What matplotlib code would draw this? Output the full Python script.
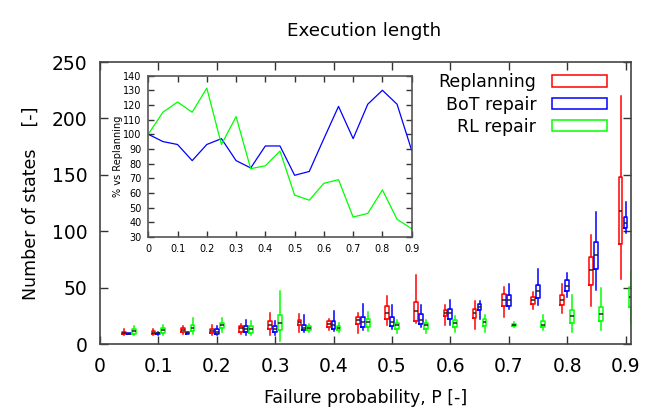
import matplotlib
matplotlib.use("Agg")
import matplotlib.pyplot as plt
from matplotlib.patches import Patch
import numpy as np

# ---------------- data ----------------
groups = [0.05, 0.10, 0.15, 0.20, 0.25, 0.30, 0.35, 0.40, 0.45,
          0.50, 0.55, 0.60, 0.65, 0.70, 0.75, 0.80, 0.85, 0.90]

series_names = ["Replanning", "BoT repair", "RL repair"]

# each row: (whisker low, q1, median, q3, whisker high)
replanning = [
    (8, 9, 10, 11, 13), (7.6, 8.7, 10, 11.4, 13.5), (9, 10.5, 12.6, 14.4, 15.8),
    (7.6, 10, 11.7, 13.5, 17.3), (9, 11, 14, 15.6, 17.6), (8.2, 12.9, 16.5, 20, 27.8),
    (11, 16.5, 19.1, 21.5, 26.2), (12.6, 15, 18, 20, 21.8), (10, 18, 20.9, 23.8, 27.4),
    (16.5, 22.4, 27.7, 33.4, 42.3), (18.5, 20.3, 29.2, 37.5, 61), (17.3, 24.5, 27.4, 29.8, 34.2),
    (13.5, 23.3, 27.4, 31.3, 37.8), (23.8, 33.6, 39.3, 44.7, 50.5), (30.7, 35.8, 38.7, 41.6, 46.1),
    (27.4, 34.2, 39.3, 43.8, 53.6), (33.4, 52.7, 65.4, 77.2, 96.5), (58, 88.3, 118.2, 148.4, 219.6),
]
bot_repair = [
    (8.5, 9, 9.3, 9.5, 10), (8, 8.7, 9.4, 10.2, 11), (8.5, 8.7, 9.6, 10.5, 11),
    (7.6, 9.3, 11.1, 12.9, 15.8), (8.4, 10.5, 13.5, 16.2, 20.9), (7.6, 10.5, 12.9, 15.8, 20),
    (10.5, 12, 14, 17.3, 25.4), (11.4, 12.9, 17, 20, 29.2), (12, 15, 19.4, 23.8, 35.8),
    (13.5, 15.8, 19.4, 23.8, 34.2), (15, 18, 21.5, 26.2, 35), (16.5, 22.4, 27.7, 31.3, 38.7),
    (22.4, 30.4, 32.7, 35.8, 37.8), (31.3, 33.6, 39.3, 43.8, 53.6), (34.9, 40.8, 47, 52.7, 66.9),
    (41.6, 46.7, 51.4, 56.5, 63), (47.6, 66.3, 78.7, 90.6, 117.3), (98, 102.5, 107.5, 112.8, 126.2),
]
rl_repair = [
    (8.2, 9, 11.4, 13.5, 15.8), (8.2, 10, 12.6, 14.4, 17.3), (8.5, 11.7, 14.4, 17, 22.7),
    (10.5, 14, 16.5, 18.5, 23), (7.6, 9.6, 12.9, 15.6, 20), (3, 12, 18.8, 26, 46.7),
    (10.5, 12.6, 14.4, 16.2, 18), (10.5, 12, 14.4, 16.2, 18.5), (11.4, 15, 19.1, 22.4, 28),
    (9.6, 13.5, 16.5, 18.8, 21.5), (9.6, 13.5, 16.5, 18.5, 21.5), (10.5, 15, 18.5, 20.9, 24.5),
    (11, 15.8, 19.1, 22.4, 26), (15, 15.8, 17, 18, 19.4), (12, 15, 17.3, 20, 25.4),
    (11, 18.5, 24.5, 29.8, 43.8), (12.6, 20.3, 26.9, 32.7, 50), (18, 32.7, 41.6, 50.5, 64.8),
]

xtick_values = [0, 0.1, 0.2, 0.3, 0.4, 0.5, 0.6, 0.7, 0.8, 0.9]
xtick_labels = ["0", "0.1", "0.2", "0.3", "0.4", "0.5", "0.6", "0.7", "0.8", "0.9"]
ytick_values = [0, 50, 100, 150, 200, 250]

# inset: % vs Replanning
inset_x = [0, 0.05, 0.1, 0.15, 0.2, 0.25, 0.3, 0.35, 0.4, 0.45,
           0.5, 0.55, 0.6, 0.65, 0.7, 0.75, 0.8, 0.85, 0.9]
inset_bot = [100, 95, 93, 82, 93, 97, 82, 77, 92, 92,
             72, 74.6, 97, 119, 97, 120.5, 130, 120.5, 89]
inset_rl = [100, 115, 122, 115, 131.5, 93, 112, 76.5, 78.5, 88.5,
            58.5, 55, 66.5, 69, 43.5, 46, 62, 42, 35.5]
inset_yticks = [30, 40, 50, 60, 70, 80, 90, 100, 110, 120, 130, 140]

# ---------------- style ----------------
colors = ["#ff0000", "#0000ff", "#00ff00"]
offsets = [-0.0085, 0.0, 0.0085]
box_width = 0.0065

plt.rcParams['font.family'] = ['DejaVu Sans']

fig = plt.figure(figsize=(6.64, 4.15), dpi=100)
ax = fig.add_axes([0.1506, 0.171, 0.7994, 0.6795])

for data, col, off in zip([replanning, bot_repair, rl_repair], colors, offsets):
    stats = [dict(whislo=w0, q1=q1, med=m, q3=q3, whishi=w1, fliers=[])
             for (w0, q1, m, q3, w1) in data]
    ax.bxp(stats, positions=[g + off for g in groups], widths=box_width,
           showcaps=False, showfliers=False, manage_ticks=False,
           boxprops=dict(color=col, linewidth=1.1),
           whiskerprops=dict(color=col, linewidth=1.1),
           medianprops=dict(color="#222222", linewidth=1.1))

ax.set_xlim(0, 0.909)
ax.set_ylim(0, 250)
ax.set_xticks(xtick_values)
ax.set_xticklabels(xtick_labels)
ax.set_yticks(ytick_values)
ax.tick_params(direction="in", top=True, right=True, length=6, width=1,
               labelsize=13.5, pad=9, colors="#333333", labelcolor="black")
for s in ax.spines.values():
    s.set_color("#444444")
    s.set_linewidth(1.2)

ax.set_xlabel("Failure probability, P [-]", fontsize=12.5, labelpad=10)
ax.set_ylabel("Number of states    [-]", fontsize=12.5, labelpad=8.5)
fig.text(0.549, 0.925, "Execution length", ha="center", va="center", fontsize=13.2)

handles = [Patch(facecolor="none", edgecolor=c, linewidth=1.1) for c in colors]
leg = ax.legend(handles, series_names, loc="upper right", markerfirst=False,
                frameon=False, fontsize=12.5, handlelength=3.2, handleheight=0.62,
                labelspacing=0.25, handletextpad=0.9, borderaxespad=0.0,
                bbox_to_anchor=(0.969, 0.985))

# ---------------- inset ----------------
ins = fig.add_axes([0.2233, 0.4293, 0.3967, 0.3885])
ins.plot(inset_x, inset_bot, color="#0000ff", linewidth=0.9)
ins.plot(inset_x, inset_rl, color="#00ff00", linewidth=0.9)
ins.set_xlim(0, 0.9)
ins.set_ylim(30, 140)
ins.set_yticks(inset_yticks)
ins.set_xticks(xtick_values)
ins.set_xticklabels(xtick_labels)
ins.tick_params(direction="in", top=True, right=True, length=4, width=1,
                labelsize=7, pad=5, colors="#333333", labelcolor="black")
for s in ins.spines.values():
    s.set_color("#555555")
    s.set_linewidth(1.2)
ins.set_ylabel("% vs Replanning", fontsize=7, labelpad=0)

fig.savefig("out.png", dpi=100)
